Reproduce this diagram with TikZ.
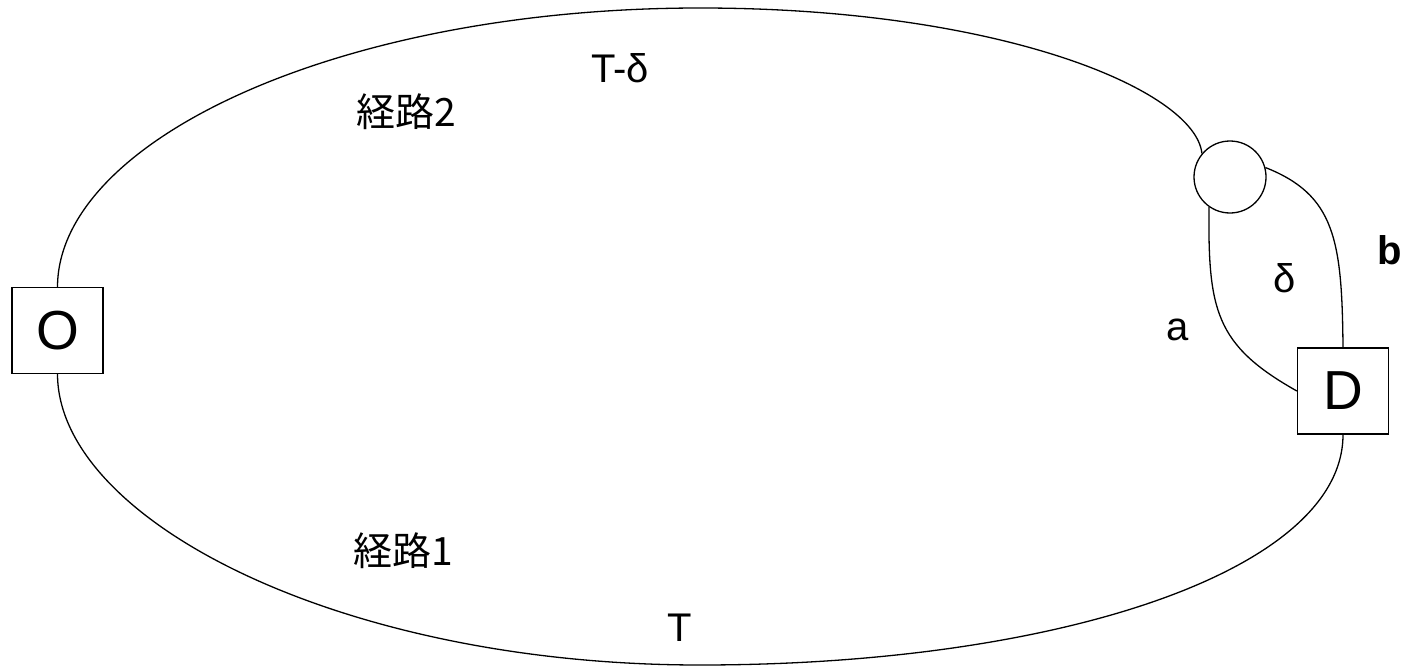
\documentclass[tikz,border=0pt]{standalone}
\usepackage{fontspec}
\setmainfont{Liberation Sans}
\newfontfamily\cjk{Noto Sans CJK JP}
\begin{document}
\begin{tikzpicture}[x=1pt,y=-1pt,line width=1.3pt,
  boxnode/.style={draw,minimum width=91pt,minimum height=86pt,inner sep=0pt,font=\fontsize{55}{62}\selectfont},
  ringnode/.style={draw,circle,minimum size=72pt,inner sep=0pt},
  lbl/.style={inner sep=0pt,font=\fontsize{40}{46}\selectfont},
  jlbl/.style={inner sep=0pt,font=\cjk\fontsize{39}{46}\selectfont}]
\useasboundingbox (0,0) rectangle (1408,669);
\node[boxnode] (O) at (57.5,330.5) {O};
\node[boxnode] (D) at (1343,391) {D};
\node[ringnode] (C) at (1230,177) {};
\draw (O.north) .. controls (58,140) and (340,8) .. (700,8)
      .. controls (1000,8) and (1195,90) .. (C.140);
\draw (O.south) .. controls (58,520) and (340,665) .. (700,665)
      .. controls (1060,665) and (1343,570) .. (D.south);
\draw (C.235) .. controls (1208,310) and (1215,345) .. (D.west);
\draw (C.15) .. controls (1335,195) and (1342,240) .. (D.north);
\node[lbl] (td) at (620,68) {T-δ};
\node[jlbl] (r2) at (406,112) {経路2};
\node[jlbl] (r1) at (403,551) {経路1};
\node[lbl] (t) at (680,628) {T};
\node[lbl] (dl) at (1285,278) {δ};
\node[lbl] (al) at (1178,330) {a};
\node[lbl,font=\bfseries\fontsize{40}{46}\selectfont] (bl) at (1390,250) {b};
\end{tikzpicture}
\end{document}
